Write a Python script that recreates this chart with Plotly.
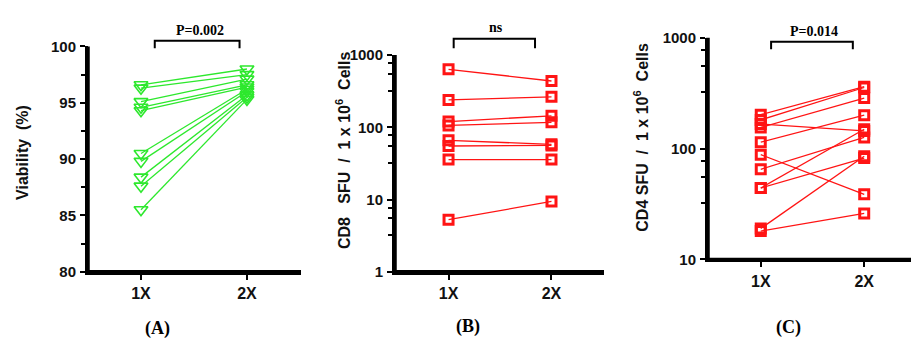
import plotly.graph_objects as go

# ---------------- data ----------------
groups = ["1X", "2X"]

# Panel A: viability (%)
via_1x = [96.6, 96.3, 95.1, 94.6, 94.3, 90.5, 89.8, 88.4, 87.6, 85.5]
via_2x = [98.0, 97.5, 97.1, 96.6, 96.4, 96.2, 96.0, 95.7, 95.5, 95.3]

# Panel B: CD8 SFU / 1e6 cells
cd8_1x = [635, 239, 120, 106, 66, 55, 35.7, 5.25]
cd8_2x = [437, 264, 144, 117, 58, 56, 35.7, 9.4]

# Panel C: CD4 SFU / 1e6 cells
cd4_1x = [202, 181, 155, 166, 114, 88, 65, 44, 44, 19, 18]
cd4_2x = [361, 355, 285, 144, 200, 38.6, 126, 149, 82, 85, 26]

a_ticks = [80, 85, 90, 95, 100]
a_minor = [82.5, 87.5, 92.5, 97.5]
b_ticks = [1, 10, 100, 1000]
b_minor = [3.2, 5.5, 7.7, 32, 55, 77, 320, 550, 770]
c_ticks = [10, 100, 1000]
c_minor = [32, 55, 77, 320, 550, 770]

p_labels = ["P=0.002", "ns", "P=0.014"]
panel_labels = ["(A)", "(B)", "(C)"]

GREEN = "rgb(45,232,45)"
RED = "rgb(255,20,20)"
W, H = 919, 344

fig = go.Figure()

def add_pairs(x1, x2, color, symbol, size, lw, xa, ya):
    for a, b in zip(x1, x2):
        fig.add_trace(go.Scatter(
            x=[1, 2], y=[a, b], mode="lines+markers",
            line=dict(color=color, width=1.3),
            marker=dict(symbol=symbol, size=size, color=color,
                        line=dict(color=color, width=lw)),
            xaxis=xa, yaxis=ya, showlegend=False, cliponaxis=False,
            hoverinfo="skip"))

add_pairs(via_1x, via_2x, GREEN, "triangle-down-open", 12, 1.6, "x", "y")
add_pairs(cd8_1x, cd8_2x, RED, "square-open", 9, 3, "x2", "y2")
add_pairs(cd4_1x, cd4_2x, RED, "square-open", 9, 3, "x3", "y3")

def px_x(px):
    return px / W

def px_y(py):
    return 1 - py / H

SANS = "Liberation Sans, Arial"
tickfont = dict(family=SANS, size=15, color="#111", weight="bold")
xtickfont = dict(family=SANS, size=16, color="#111", weight="bold")

def xaxis(dom, rng, anchor):
    return dict(domain=dom, range=rng, anchor=anchor, showline=True,
                linewidth=3, linecolor="black", ticks="outside", ticklen=5,
                tickwidth=2, tickcolor="black", tickvals=[1, 2],
                ticktext=groups, tickfont=xtickfont, showgrid=False,
                zeroline=False, fixedrange=True)

def yaxis(dom, rng, anchor, typ, tv, minor):
    return dict(domain=dom, range=rng, anchor=anchor, type=typ,
                showline=True, linewidth=3, linecolor="black",
                ticks="outside", ticklen=5, tickwidth=2, tickcolor="black",
                tickvals=tv, ticktext=[str(v) for v in tv], tickfont=tickfont,
                minor=dict(tickvals=minor, ticks="outside", ticklen=4,
                           tickwidth=2, tickcolor="black", showgrid=False),
                showgrid=False, zeroline=False, fixedrange=True,
                ticklabelstandoff=1)

# panel frames in pixels: (left, right, top, bottom)
frames = [(80, 293, 31, 268), (387, 596, 40, 268), (700, 910, 21.7, 255)]

fig.update_layout(
    width=W, height=H, margin=dict(l=0, r=0, t=0, b=0),
    paper_bgcolor="white", plot_bgcolor="white",
    xaxis=xaxis([px_x(80), px_x(293)], [0.5, 2.51], "y"),
    yaxis=yaxis([px_y(268), px_y(31)], [80, 100], "x", "linear", a_ticks, a_minor),
    xaxis2=xaxis([px_x(387), px_x(596)], [0.48, 2.51], "y2"),
    yaxis2=yaxis([px_y(268), px_y(40)], [0, 3], "x2", "log", b_ticks, b_minor),
    xaxis3=xaxis([px_x(700), px_x(910)], [0.49, 2.52], "y3"),
    yaxis3=yaxis([px_y(255), px_y(21.7)], [1, 3], "x3", "log", c_ticks, c_minor),
)

# heavy axis lines (L-shaped frame on each panel)
for l, r, t, b in frames:
    fig.add_shape(type="path", xref="paper", yref="paper",
                  path=f"M {px_x(l)} {px_y(t)} L {px_x(l)} {px_y(b)} L {px_x(r)} {px_y(b)}",
                  line=dict(color="black", width=3.5), layer="above")

# y titles
titles = [
    ("Viability  (%)", 15, 143),
    ("CD8   SFU  /  1 x 10<sup>6</sup>  Cells", 335, 140),
    ("CD4 SFU  /  1 x 10<sup>6</sup>  Cells", 633, 127),
]
for txt, cx, cy in titles:
    fig.add_annotation(text=txt, x=px_x(cx), y=px_y(cy), xref="paper",
                       yref="paper", showarrow=False, textangle=-90,
                       xanchor="center", yanchor="middle",
                       font=dict(family=SANS, size=16, color="#111",
                                 weight="bold"))

# significance brackets (x in data coords, y in pixels)
brackets = [("x", 1.13, 1.93, 25, 33, 192, 14),
            ("x2", 1.05, 1.84, 23, 33, 488, 11),
            ("x3", 1.10, 1.89, 26, 34, 806, 15)]
for (xa, x0, x1, ytop, ybot, tx, ty), lab in zip(brackets, p_labels):
    fig.add_shape(type="path", xref=xa, yref="paper",
                  path=f"M {x0} {px_y(ybot)} L {x0} {px_y(ytop)} L {x1} {px_y(ytop)} L {x1} {px_y(ybot)}",
                  line=dict(color="black", width=2))
    fig.add_annotation(text=f"<b>{lab}</b>", x=px_x(tx), y=px_y(ty),
                       xref="paper", yref="paper", showarrow=False,
                       xanchor="center", yanchor="middle",
                       font=dict(family="Liberation Serif, Times New Roman",
                                 size=14, color="black"))

# panel labels
for lab, cx, cy in zip(panel_labels, [149, 460, 780], [328, 326, 327]):
    fig.add_annotation(text=f"<b>{lab}</b>", x=px_x(cx), y=px_y(cy),
                       xref="paper", yref="paper", showarrow=False,
                       xanchor="center", yanchor="middle",
                       font=dict(family="Liberation Serif, Times New Roman",
                                 size=18, color="black"))

fig.write_html("out.html")
